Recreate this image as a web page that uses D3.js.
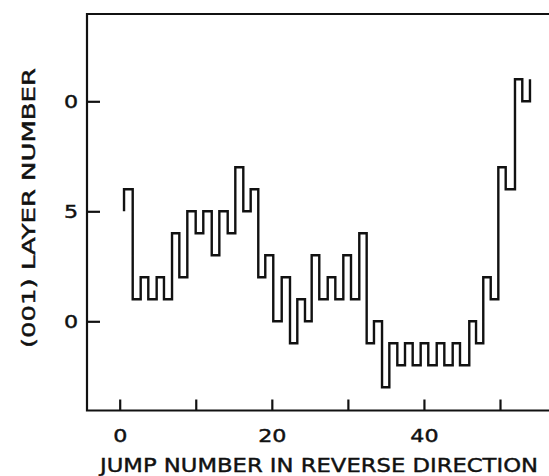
<!DOCTYPE html>
<html>
<head>
<meta charset="utf-8">
<script src="https://cdn.jsdelivr.net/npm/d3@7"></script>
<style>
  html, body { margin: 0; padding: 0; background: #fff; }
  svg { display: block; }
  text { font-family: "DejaVu Sans", sans-serif; fill: #111; stroke: #111; stroke-width: 0.45px; }
</style>
</head>
<body>
<svg id="chart" width="549" height="476"></svg>
<script>
// Jump positions along the horizontal axis (jump number) where the layer changes
const jumpAt = [
  0.57, 1.71, 2.76, 3.76, 4.86, 5.82, 6.88, 7.84, 8.89, 9.99,
  10.99, 12.10, 13.10, 14.20, 15.20, 16.25, 17.22, 18.22, 19.14, 20.19,
  21.30, 22.39, 23.35, 24.36, 25.24, 26.24, 27.35, 28.35, 29.40, 30.41,
  31.50, 32.47, 33.43, 34.49, 35.45, 36.50, 37.51, 38.52, 39.57, 40.57,
  41.68, 42.68, 43.78, 44.74, 45.96, 46.85, 47.80, 48.78, 49.78, 50.75,
  51.97, 52.93, 53.94
];
// Layer occupied before the first jump, and after each jump
const startLayer = 5;
const layerAfter = [
  6, 1, 2, 1, 2, 1, 4, 2, 5, 4,
  5, 3, 5, 4, 7, 5, 6, 2, 3, 0,
  2, -1, 1, 0, 3, 1, 2, 1, 3, 1,
  4, -1, 0, -3, -1, -2, -1, -2, -1, -2,
  -1, -2, -1, -2, 0, -1, 2, 1, 7, 6,
  11, 10, 11
];

// Axis ticks and their printed labels
const xTicks = [0, 10, 20, 30, 40, 50];
const xTickLabels = ["0", "", "20", "", "40", ""];
const yTicks = [0, 5, 10];
const yTickLabels = ["0", "5", "0"];
const xTitle = "JUMP NUMBER IN REVERSE DIRECTION";
const yTitle = "(001) LAYER NUMBER";

const svg = d3.select("#chart");
const frame = { left: 87, top: 14, bottom: 410.5, right: 570 };

const x = d3.scaleLinear().domain([0, 50]).range([119.7, 500]);
const y = d3.scaleLinear().domain([0, 10]).range([321.3, 101.3]);

const ink = "#111";
const labelWiden = 1.2;   // lettering with broad, round numerals

// Plot frame: left, top and bottom edges
svg.append("path")
  .attr("d", `M${frame.right},${frame.top}H${frame.left}V${frame.bottom}H${frame.right}`)
  .attr("fill", "none")
  .attr("stroke", ink)
  .attr("stroke-width", 2.2);

// Bottom axis, ticks pointing into the plot
const xAxis = svg.append("g")
  .attr("transform", `translate(0,${frame.bottom})`)
  .call(d3.axisBottom(x)
    .tickValues(xTicks)
    .tickSize(-11)
    .tickPadding(18)
    .tickFormat((d, i) => xTickLabels[i]));
xAxis.select(".domain").remove();
xAxis.selectAll("line").attr("stroke", ink).attr("stroke-width", 2.2);
xAxis.selectAll("text")
  .attr("font-family", "DejaVu Sans, sans-serif")
  .attr("font-size", 18.5)
  .attr("fill", ink)
  .attr("transform", `scale(${labelWiden},1)`);

// Left axis, ticks pointing into the plot
const yPad = 9;
const yAxis = svg.append("g")
  .attr("transform", `translate(${frame.left},0)`)
  .call(d3.axisLeft(y)
    .tickValues(yTicks)
    .tickSize(-13)
    .tickPadding(yPad)
    .tickFormat((d, i) => yTickLabels[i]));
yAxis.select(".domain").remove();
yAxis.selectAll("line").attr("stroke", ink).attr("stroke-width", 2.2);
yAxis.selectAll("text")
  .attr("font-family", "DejaVu Sans, sans-serif")
  .attr("font-size", 18.5)
  .attr("fill", ink)
  .attr("x", -yPad / labelWiden)
  .attr("transform", `scale(${labelWiden},1)`);

// Axis titles
svg.append("text")
  .attr("x", 319)
  .attr("y", 472)
  .attr("text-anchor", "middle")
  .attr("font-size", 20)
  .attr("textLength", 438)
  .attr("lengthAdjust", "spacingAndGlyphs")
  .text(xTitle);

svg.append("text")
  .attr("transform", "translate(34.5,208) rotate(-90)")
  .attr("text-anchor", "middle")
  .attr("font-size", 17.5)
  .attr("textLength", 280)
  .attr("lengthAdjust", "spacingAndGlyphs")
  .text(yTitle);

// Layer sequence as a step trace
const points = [[jumpAt[0], startLayer]].concat(jumpAt.map((j, i) => [j, layerAfter[i]]));
const line = d3.line()
  .x(d => x(d[0]))
  .y(d => y(d[1]))
  .curve(d3.curveStepAfter);

svg.append("path")
  .datum(points)
  .attr("d", line)
  .attr("fill", "none")
  .attr("stroke", ink)
  .attr("stroke-width", 2.4)
  .attr("stroke-linejoin", "miter");
</script>
</body>
</html>
